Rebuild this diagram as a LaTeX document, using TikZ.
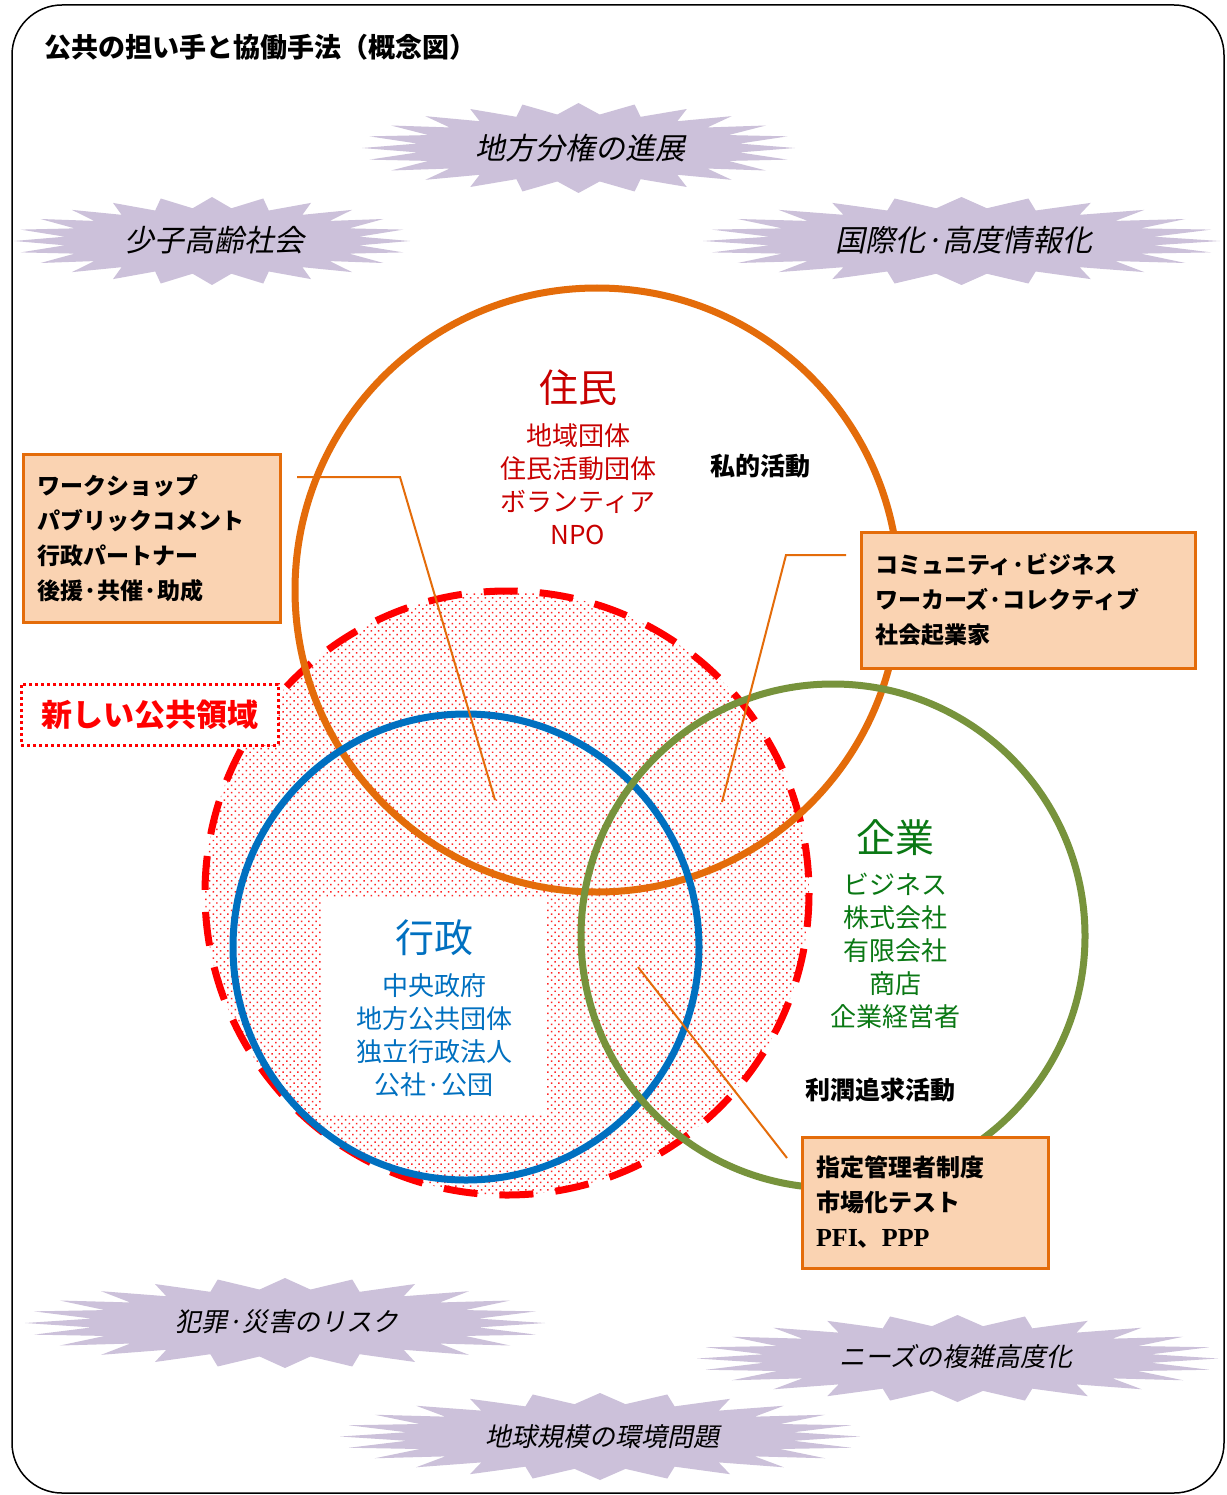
\documentclass[tikz,border=0pt]{standalone}
\usepackage{fontspec}
\setmainfont{Noto Sans CJK JP}
\newfontfamily\jp{Noto Sans CJK JP}
\newfontfamily\jpit{Noto Sans CJK JP}[FakeSlant=0.2]
\newfontfamily\serifb{Liberation Serif}
\usetikzlibrary{patterns.meta}

\definecolor{burstc}{RGB}{204,193,218}
\definecolor{orangec}{RGB}{228,108,10}
\definecolor{boxfill}{RGB}{250,211,178}
\definecolor{bluec}{RGB}{0,112,192}
\definecolor{greenc}{RGB}{119,147,60}
\definecolor{redtxt}{RGB}{200,0,0}
\definecolor{greentxt}{RGB}{10,120,20}

\newcommand\fsz[2]{\fontsize{#1}{#2}\selectfont}
\newcommand\mkburst[4]{%
  \fill[burstfill] plot[domain=0:352.5,samples=48,variable=\t]
    ({#1+#3*(1-0.25*mod(round(\t/7.5),2))*cos(\t)},{#2+#4*(1-0.25*mod(round(\t/7.5),2))*sin(\t)}) -- cycle;}

\tikzset{
  burstfill/.style={fill=burstc},
  bursttext/.style={font=\jpit\fsz{30}{30}, inner sep=0pt},
  bursttextsm/.style={font=\jpit\fsz{26}{26}, inner sep=0pt},
  ring/.style={line width=7pt},
  infobox/.style={draw=orangec, line width=3pt, fill=boxfill, align=left,
     font=\jp\bfseries\fsz{23}{35}, inner xsep=14pt, inner ysep=0pt},
  leader/.style={draw=orangec, line width=2pt},
  headtxt/.style={font=\jp\fsz{39}{39}, inner sep=0pt},
  listtxt/.style={font=\jp\fsz{26}{33}, align=center, inner sep=0pt},
  acttxt/.style={font=\jp\bfseries\fsz{25}{25}, inner sep=0pt},
}

\begin{document}
\begin{tikzpicture}[x=1pt,y=-1pt]
\useasboundingbox (0,0) rectangle (1226,1495);
% frame
\draw[line width=1.5pt, fill=white, rounded corners=50pt] (12,5) rectangle (1224,1493);

% title
\node[anchor=west, font=\jp\bfseries\fsz{27}{27}, inner sep=0pt] (title) at (44,47) {公共の担い手と協働手法（概念図）};

% bursts
\mkburst{578.5}{148}{216.5}{45}
\mkburst{212}{241}{198}{44}
\mkburst{961.5}{241}{258.5}{44}
\mkburst{285}{1323}{260}{45}
\mkburst{957.5}{1358.5}{260.5}{43.5}
\mkburst{600}{1436.5}{260}{43.5}
\node[bursttext] (b1) at (580,148) {地方分権の進展};
\node[bursttext] (b2) at (214,240) {少子高齢社会};
\node[bursttext] (b3) at (964,240) {国際化·高度情報化};
\node[bursttextsm] (b4) at (287,1322) {犯罪·災害のリスク};
\node[bursttextsm] (b5) at (956,1357) {ニーズの複雑高度化};
\node[bursttextsm] (b6) at (602,1437) {地球規模の環境問題};

% new public area
\fill[pattern={Dots[distance=5.2pt,angle=45,radius=1.05pt]}, pattern color=red!85] (507,893) circle[radius=302];
\fill[white] (322,898) rectangle (545,1115);
\draw[red, line width=7pt, dash pattern=on 34pt off 22pt] (507,893) circle[radius=302];

% rings
\draw[ring, orangec] (597,590) circle[radius=302];
\draw[ring, bluec] (466,947) circle[radius=233];
\draw[ring, greenc] (833,936) circle[radius=252];

% circle texts
\node[headtxt, text=redtxt] (jumin) at (578,388) {住民};
\node[listtxt, text=redtxt] (juminlist) at (578,484) {地域団体\\住民活動団体\\ボランティア\\NPO};
\node[acttxt] (shiteki) at (760,466) {私的活動};

\node[headtxt, text=greentxt] (kigyo) at (895,838) {企業};
\node[listtxt, text=greentxt] (kigyolist) at (895,951) {ビジネス\\株式会社\\有限会社\\商店\\企業経営者};
\node[acttxt] (rijun) at (880,1090) {利潤追求活動};

\node[headtxt, text=bluec] (gyosei) at (434,938) {行政};
\node[listtxt, text=bluec] (gyoseilist) at (434,1035) {中央政府\\地方公共団体\\独立行政法人\\公社·公団};

% boxes
\node[infobox, text width=229pt, minimum height=168pt] (box1) at (151.5,538) {ワークショップ\\パブリックコメント\\行政パートナー\\後援·共催·助成};
\node[infobox, text width=306pt, minimum height=136pt] (box2) at (1028,600) {コミュニティ·ビジネス\\ワーカーズ·コレクティブ\\社会起業家};
\node[infobox, text width=218pt, minimum height=131pt, font=\jp\bfseries\fsz{24}{35}] (box3) at (925,1202.5) {指定管理者制度\\市場化テスト\\{\serifb\bfseries\fsz{26}{35}PFI}、{\serifb\bfseries\fsz{26}{35}PPP}};

\node[draw=red, line width=3pt, dash pattern=on 3pt off 3pt, fill=white, minimum width=257pt, minimum height=61pt, inner sep=0pt, font=\jp\bfseries\fsz{31}{31}, text=red] (newpub) at (149.5,714.5) {新しい公共領域};

% leader lines
\coordinate (l1a) at (297,477);
\coordinate (l1b) at (400,477);
\coordinate (l1c) at (495,800);
\coordinate (l2a) at (846,555);
\coordinate (l2b) at (786,555);
\coordinate (l2c) at (722,802);
\coordinate (l3a) at (787,1158);
\coordinate (l3b) at (638,967);
\draw[leader] (l1a) -- (l1b) -- (l1c);
\draw[leader] (l2a) -- (l2b) -- (l2c);
\draw[leader] (l3a) -- (l3b);
\end{tikzpicture}
\end{document}
